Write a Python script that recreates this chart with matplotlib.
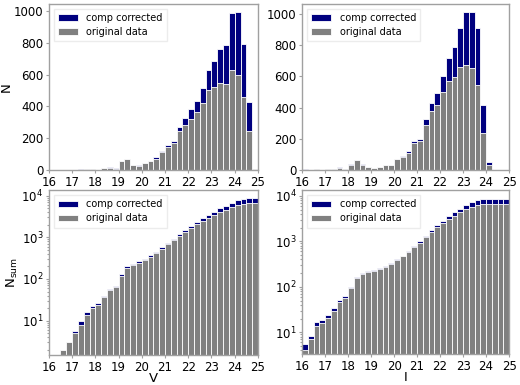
import numpy as np
import matplotlib
matplotlib.use("Agg")
import matplotlib.pyplot as plt

# bin left edges (width 0.25 mag) from 16 to 25
bin_edges = np.arange(16.0, 25.0, 0.25)
bin_width = 0.25

V_corr = [0, 0, 2, 1, 2.5, 4.5, 6, 6, 4, 14, 17, 11, 60, 72, 33, 30, 45, 60, 80, 123,
          158, 185, 272, 326, 382, 437, 518, 626, 682, 761, 788, 988, 994, 790, 426, 8]
V_orig = [0, 0, 2, 1, 2, 3, 6, 6, 4, 13, 16, 10, 55, 68, 31, 28, 42, 57, 72, 112,
          145, 170, 245, 285, 320, 365, 420, 503, 520, 545, 540, 630, 600, 462, 245, 7]

I_corr = [5.5, 3, 8, 2, 5, 10, 18, 10, 38, 66, 38, 20, 14, 22, 32, 36, 72, 88, 120, 185,
          200, 325, 428, 490, 600, 715, 785, 910, 1012, 1008, 910, 415, 55, 0, 0, 0]
I_orig = [4, 3, 7, 2, 5, 9, 16, 10, 36, 63, 36, 19, 13, 21, 31, 35, 70, 85, 112, 172,
          185, 290, 378, 418, 500, 570, 595, 660, 672, 655, 545, 235, 30, 0, 0, 0]

xticks = [16, 17, 18, 19, 20, 21, 22, 23, 24, 25]

BLUE = '#00007f'
GREY = '#808080'
SPINE = '#a0a0a0'

fig = plt.figure(figsize=(5.2, 3.85), dpi=100)

pos = {
    'tl': [0.094, 0.558, 0.402, 0.432],
    'tr': [0.581, 0.558, 0.398, 0.432],
    'bl': [0.094, 0.078, 0.402, 0.428],
    'br': [0.581, 0.080, 0.398, 0.426],
}


def style(ax):
    for s in ax.spines.values():
        s.set_color(SPINE)
        s.set_linewidth(1.0)
    ax.tick_params(axis='both', which='both', colors=SPINE, labelcolor='black',
                   labelsize=8.5, length=2.5, width=0.8, pad=1.5)
    ax.tick_params(axis='y', which='minor', length=1.5)
    ax.set_xlim(16, 25)
    ax.set_xticks(xticks)


def draw(ax, corr, orig):
    ax.bar(bin_edges, corr, width=bin_width, align='edge', color=BLUE,
           edgecolor='white', linewidth=0.6, label='comp corrected')
    ax.bar(bin_edges, orig, width=bin_width, align='edge', color=GREY,
           edgecolor='white', linewidth=0.6, label='original data')
    ax.legend(loc='upper left', fontsize=7, frameon=True, borderpad=0.45,
              labelspacing=0.4, handlelength=2.0, handletextpad=0.9,
              borderaxespad=0.5, fancybox=False, edgecolor='#e8e8e8')


ax_tl = fig.add_axes(pos['tl'])
draw(ax_tl, V_corr, V_orig)
style(ax_tl)
ax_tl.set_ylabel('N', fontsize=9.5, labelpad=1)
ax_tl.set_yticks([0, 200, 400, 600, 800, 1000])

ax_tr = fig.add_axes(pos['tr'])
draw(ax_tr, I_corr, I_orig)
style(ax_tr)
ax_tr.set_yticks([0, 200, 400, 600, 800, 1000])

ax_bl = fig.add_axes(pos['bl'])
ax_bl.set_yscale('log')
draw(ax_bl, np.cumsum(V_corr), np.cumsum(V_orig))
style(ax_bl)
ax_bl.set_ylim(1.5, 13500)
ax_bl.set_ylabel(r'$\mathrm{N_{sum}}$', fontsize=9.5, labelpad=1)
ax_bl.set_xlabel('V', fontsize=9.5, labelpad=-1)

ax_br = fig.add_axes(pos['br'])
ax_br.set_yscale('log')
draw(ax_br, np.cumsum(I_corr), np.cumsum(I_orig))
style(ax_br)
ax_br.set_ylim(3.3, 13300)
ax_br.set_xlabel('I', fontsize=9.5, labelpad=-1)

for ax in (ax_bl, ax_br):
    ax.yaxis.set_minor_formatter(matplotlib.ticker.NullFormatter())

fig.savefig('out.png', dpi=100)
